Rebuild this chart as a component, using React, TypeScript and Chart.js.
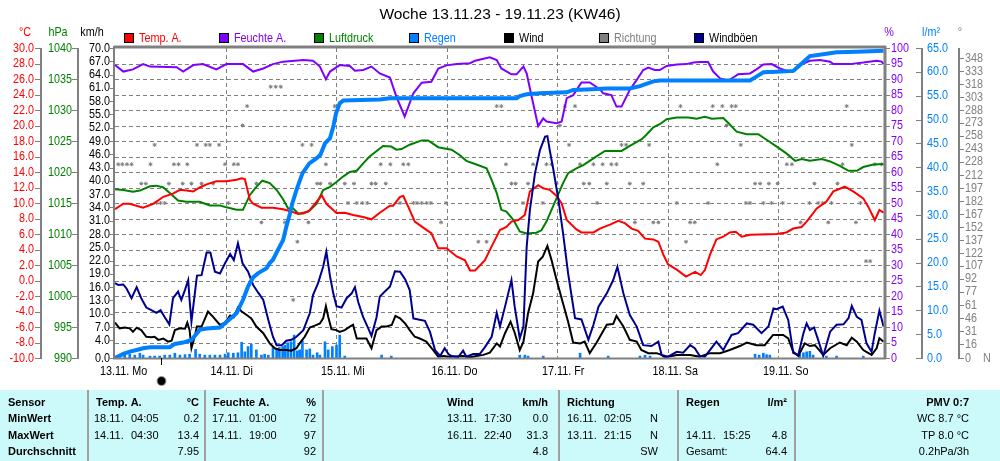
import React, { useEffect, useRef } from 'react';
import { Chart, registerables } from 'chart.js';
Chart.register(...registerables);

const SANS = '"Liberation Sans", Arial, sans-serif';
const SQUEEZE = 0.83;

const X_MAX = 167;
const title = 'Woche 13.11.23 - 19.11.23 (KW46)';
const dayLabels = ['13.11. Mo', '14.11. Di', '15.11. Mi', '16.11. Do', '17.11. Fr', '18.11. Sa', '19.11. So'];

const tempTicks = [-10, -8, -6, -4, -2, 0, 2, 4, 6, 8, 10, 12, 14, 16, 18, 20, 22, 24, 26, 28, 30];
const pressTicks = [990, 995, 1000, 1005, 1010, 1015, 1020, 1025, 1030, 1035, 1040];
const windTicks = [0, 4, 7, 10, 13, 16, 19, 22, 25, 28, 31, 34, 37, 40, 43, 46, 49, 52, 55, 58, 61, 64, 67, 70];
const humTicks = [0, 5, 10, 15, 20, 25, 30, 35, 40, 45, 50, 55, 60, 65, 70, 75, 80, 85, 90, 95, 100];
const rainTicks = [0, 5, 10, 15, 20, 25, 30, 35, 40, 45, 50, 55, 60, 65];
const dirTicks = [0, 16, 31, 46, 61, 77, 92, 107, 122, 137, 152, 167, 182, 197, 212, 228, 243, 258, 273, 288, 303, 318, 333, 348];

// [hour since 13.11. 00:00, value]
const temperature: [number, number][] = [
  [0, 9.2], [1.8, 9.9], [3.2, 9.9], [6.1, 9.4], [8.3, 9.9], [10.5, 10.8], [12.6, 11.2], [14.1, 11.7], [15.5, 11.6], [17.0, 11.5],
  [18.4, 12.0], [19.9, 12.4], [22.0, 12.8], [24.2, 12.8], [26.4, 13.0], [27.5, 13.2], [28.2, 13.1], [29.3, 10.4], [30.0, 9.9], [31.8, 9.4],
  [34.3, 9.4], [36.5, 9.2], [38.3, 8.9], [39.8, 8.6], [40.9, 8.75], [42.0, 8.9], [43.4, 9.9], [44.9, 11.0], [45.9, 9.9], [48.1, 8.7],
  [49.9, 8.75], [51.7, 8.45], [53.9, 8.2], [55.7, 7.9], [57.5, 8.75], [59.7, 9.65], [60.4, 9.65], [61.9, 10.8], [62.6, 10.9], [63.7, 9.5],
  [65.1, 7.6], [67.7, 6.5], [68.7, 6.1], [70.2, 4.15], [72.0, 4.15], [74.2, 3.1], [76.0, 2.6], [77.1, 1.3], [78.2, 1.3], [80.3, 2.6],
  [81.8, 4.4], [83.6, 6.5], [85.0, 6.9], [86.1, 7.6], [87.6, 7.8], [89.0, 8.45], [90.1, 11.5], [91.9, 12.3], [93.0, 11.9], [94.4, 11.7],
  [95.9, 10.9], [97.0, 9.95], [98.1, 7.8], [100.2, 6.6], [101.3, 6.2], [103.9, 6.2], [105.3, 6.7], [107.5, 7.2], [109.3, 7.7], [110.7, 7.4],
  [112.2, 6.7], [113.6, 6.4], [115.1, 5.4], [116.9, 5.3], [118.0, 5.0], [119.1, 3.3], [120.1, 2.1], [122.0, 1.4], [124.0, 0.5], [126.0, 1.1],
  [127.2, 0.7], [128.1, 1.35], [129.2, 3.3], [130.6, 5.3], [132.1, 5.65], [133.5, 6.2], [134.8, 6.3], [136.1, 5.65], [137.9, 5.9], [143.7, 6.0],
  [145.8, 6.2], [147.3, 6.7], [149.1, 6.9], [150.2, 7.6], [152.4, 9.3], [154.5, 10.2], [156.0, 11.5], [158.5, 12.1], [160.3, 11.5], [162.5, 10.6],
  [163.6, 9.5], [165.0, 7.8], [166.0, 9.1], [166.9, 8.75],
];

const humidity: [number, number][] = [
  [0, 94.5], [1.8, 92.4], [3.9, 93.1], [6.1, 94.8], [7.6, 94.0], [13.4, 93.8], [14.8, 92.4], [17.0, 94.5], [19.1, 94.8], [22.0, 93.1],
  [24.2, 94.8], [27.8, 94.8], [30.0, 92.4], [32.2, 93.4], [34.3, 94.8], [36.5, 95.6], [40.9, 96.1], [43.0, 95.9], [44.5, 94.0], [45.8, 89.9],
  [46.7, 92.4], [48.8, 94.5], [51.0, 94.2], [52.1, 92.7], [53.9, 92.9], [55.7, 94.0], [57.5, 91.8], [59.7, 90.5], [61.1, 84.3], [62.9, 77.9],
  [64.8, 85.4], [66.6, 88.8], [68.7, 89.1], [70.2, 93.4], [72.0, 94.4], [74.2, 94.8], [77.1, 95.1], [78.2, 95.9], [81.4, 97.0], [82.9, 96.1],
  [83.9, 93.4], [86.1, 91.5], [87.2, 91.5], [88.7, 94.0], [89.4, 91.8], [90.8, 82.2], [91.9, 74.8], [93.0, 77.3], [93.7, 76.3], [95.9, 75.7],
  [97.0, 76.3], [98.1, 83.8], [99.5, 84.8], [101.3, 88.9], [103.1, 88.9], [105.3, 86.7], [106.0, 85.4], [107.8, 84.8], [108.9, 81.1], [110.0, 81.1],
  [111.8, 86.5], [113.3, 89.7], [114.7, 92.9], [115.8, 93.7], [117.2, 92.9], [118.3, 92.9], [119.8, 94.2], [122.0, 94.7], [124.1, 94.8], [125.6, 95.3],
  [127.0, 95.5], [128.8, 95.5], [129.9, 92.4], [131.4, 90.2], [133.2, 89.5], [134.6, 90.8], [135.3, 91.5], [137.9, 91.8], [139.3, 93.1], [140.8, 94.7],
  [142.6, 94.8], [144.4, 93.4], [145.8, 92.7], [147.3, 92.4], [148.7, 94.5], [150.9, 95.9], [153.1, 96.1], [155.3, 95.6], [156.0, 94.8], [159.6, 94.8],
  [162.5, 95.3], [165.4, 95.9], [166.5, 95.6], [166.9, 94.8],
];

const pressure: [number, number][] = [
  [0, 1017.2], [1.8, 1017.1], [3.9, 1016.8], [5.4, 1017.0], [7.6, 1017.7], [9.0, 1017.8], [10.5, 1017.5], [11.9, 1016.6], [13.7, 1015.4], [15.5, 1015.2],
  [18.4, 1015.2], [20.6, 1014.6], [22.8, 1014.6], [24.2, 1014.3], [26.4, 1013.9], [27.8, 1013.9], [29.3, 1016.3], [30.7, 1017.6], [32.0, 1018.6], [33.6, 1018.2],
  [35.1, 1017.1], [36.5, 1015.6], [37.6, 1014.1], [38.7, 1014.1], [39.8, 1013.3], [40.9, 1013.3], [42.3, 1013.8], [43.8, 1014.9], [45.2, 1017.1], [46.7, 1017.6],
  [48.1, 1018.4], [49.6, 1019.3], [51.0, 1020.0], [52.5, 1020.2], [53.9, 1021.4], [55.3, 1022.5], [58.2, 1024.2], [60.0, 1024.1], [61.1, 1023.6], [62.2, 1023.7],
  [64.0, 1024.4], [66.6, 1025.1], [68.0, 1025.1], [70.2, 1024.0], [71.6, 1023.8], [73.1, 1023.6], [74.9, 1022.7], [76.3, 1021.8], [78.2, 1021.3], [80.7, 1020.6],
  [81.8, 1018.7], [82.9, 1016.6], [83.9, 1013.9], [85.0, 1013.6], [86.5, 1012.3], [87.9, 1010.4], [89.4, 1010.1], [91.5, 1010.2], [92.6, 1010.6], [93.7, 1012.0],
  [94.8, 1013.9], [95.9, 1015.8], [97.3, 1018.2], [98.4, 1019.8], [100.2, 1020.6], [101.7, 1021.1], [103.9, 1022.2], [106.4, 1023.4], [110.0, 1023.4], [111.8, 1024.2],
  [114.4, 1025.3], [115.4, 1026.0], [116.9, 1027.2], [118.3, 1027.7], [119.8, 1028.5], [122.0, 1028.8], [124.5, 1028.8], [126.3, 1028.6], [128.1, 1028.9], [129.6, 1028.6],
  [132.1, 1028.7], [133.2, 1027.9], [135.0, 1026.5], [137.2, 1026.1], [139.7, 1026.1], [141.5, 1025.2], [143.7, 1024.1], [145.8, 1023.0], [147.7, 1021.8], [149.1, 1022.1],
  [150.9, 1021.8], [153.5, 1022.1], [155.3, 1021.7], [157.4, 1021.0], [159.3, 1020.2], [161.1, 1020.2], [162.5, 1020.8], [164.7, 1021.2], [166.9, 1021.3],
];

const rainTotal: [number, number][] = [
  [0, 0], [1.8, 0.85], [3.2, 1.34], [4.7, 1.69], [6.1, 2.04], [7.6, 2.25], [11.9, 2.25], [13.0, 2.95], [14.8, 3.23], [16.6, 3.79],
  [17.3, 4.6], [18.4, 5.9], [19.9, 6.2], [22.8, 6.4], [23.9, 7.3], [26.4, 9.4], [27.8, 12.2], [28.9, 15.0], [30.0, 16.9], [31.1, 17.8],
  [32.9, 18.8], [33.6, 19.9], [34.3, 20.6], [35.4, 22.7], [36.5, 24.7], [37.2, 27.5], [38.0, 30.3], [38.5, 32.4], [39.4, 35.2], [40.7, 38.7],
  [42.2, 40.8], [43.8, 41.9], [44.6, 42.6], [45.6, 45.0], [46.7, 46.1], [47.4, 48.5], [48.0, 51.3], [48.8, 53.4], [49.6, 54.0], [57.5, 54.2],
  [59.7, 54.45], [87.2, 54.45], [87.9, 54.9], [89.4, 55.3], [92.3, 55.5], [98.1, 55.7], [99.5, 56.2], [102.4, 56.3], [106.8, 56.5], [111.8, 56.5],
  [114.0, 57.0], [116.9, 58.0], [118.3, 58.2], [137.9, 58.2], [139.3, 59.0], [140.8, 59.9], [143.7, 60.0], [147.3, 60.2], [148.7, 61.4], [150.9, 63.3],
  [153.8, 63.7], [156.7, 64.1], [161.0, 64.2], [166.9, 64.4],
];

const rainHourly: [number, number][] = [
  [1.0, 0.4], [2.1, 0.6], [3.2, 0.8], [4.3, 0.6], [5.4, 1.0], [6.1, 0.6], [7.6, 0.4], [8.6, 0.4], [9.7, 0.4], [10.8, 0.6],
  [11.9, 0.6], [13.0, 1.0], [14.1, 0.6], [15.2, 0.7], [16.2, 0.8], [17.5, 1.8], [18.4, 0.8], [19.5, 0.6], [20.6, 0.6], [21.7, 0.6],
  [22.8, 0.6], [23.9, 0.8], [24.6, 1.1], [25.7, 1.0], [26.7, 1.1], [27.5, 3.3], [28.2, 1.3], [28.9, 2.4], [29.6, 2.9], [30.7, 1.7],
  [31.8, 0.6], [32.5, 0.8], [33.3, 0.6], [34.3, 2.2], [35.1, 2.0], [35.7, 2.2], [36.4, 2.4], [36.9, 2.7], [37.5, 3.2], [38.2, 3.4],
  [38.9, 4.8], [39.6, 1.5], [40.1, 1.7], [40.7, 3.6], [41.6, 1.7], [42.3, 1.9], [43.0, 0.6], [43.9, 1.1], [44.5, 0.6], [45.6, 3.4],
  [46.3, 1.7], [47.2, 2.4], [48.1, 2.7], [48.8, 4.8], [49.9, 0.4], [57.9, 0.6], [60.0, 0.4], [87.9, 0.6], [89.0, 0.6], [89.7, 0.4],
  [93.0, 0.4], [101.0, 1.0], [107.1, 0.4], [114.0, 0.4], [115.1, 0.6], [116.2, 0.4], [139.0, 0.8], [139.9, 0.6], [140.8, 1.0], [141.5, 0.7],
  [142.2, 0.6], [148.7, 0.8], [149.5, 1.1], [150.2, 1.3], [150.9, 1.4], [151.6, 0.6], [154.5, 0.4], [156.7, 0.4], [162.5, 0.4],
];

const wind: [number, number][] = [
  [0, 8.0], [1.0, 6.7], [2.1, 6.9], [3.2, 6.7], [3.9, 5.9], [4.7, 6.85], [5.7, 6.3], [6.8, 4.8], [7.9, 4.7], [8.6, 4.8],
  [9.4, 4.1], [10.5, 4.4], [11.5, 3.7], [12.3, 3.9], [13.0, 6.3], [14.1, 6.7], [15.2, 6.6], [15.7, 8.0], [16.2, 6.3], [16.6, 2.2],
  [17.3, 4.8], [17.8, 7.1], [18.8, 7.1], [20.2, 10.5], [21.3, 9.3], [22.8, 7.45], [23.9, 8.0], [25.0, 9.6], [25.8, 9.2], [26.7, 11.4],
  [27.5, 10.5], [28.6, 9.7], [29.6, 8.95], [30.7, 7.1], [32.2, 5.6], [33.6, 3.3], [34.7, 2.2], [35.8, 1.8], [37.2, 1.8], [38.3, 1.65],
  [39.4, 2.2], [40.1, 3.3], [41.2, 4.8], [42.3, 6.9], [43.4, 7.3], [44.5, 7.8], [45.2, 8.95], [45.8, 11.7], [46.3, 9.3], [47.0, 6.5],
  [48.1, 6.3], [48.8, 5.9], [49.9, 6.3], [51.0, 7.1], [51.7, 7.5], [52.5, 4.4], [53.5, 4.4], [54.6, 4.4], [55.7, 2.2], [56.8, 6.3],
  [57.9, 7.1], [59.0, 7.1], [60.1, 7.45], [60.9, 9.5], [61.9, 8.95], [63.0, 7.8], [64.0, 6.3], [65.1, 4.8], [66.2, 4.4], [67.6, 3.7],
  [69.1, 1.8], [70.2, 0.3], [71.3, 0.45], [72.7, 0.3], [75.6, 0.45], [77.1, 0.15], [78.5, 0.45], [80.0, 0.7], [81.4, 1.2], [82.9, 3.3],
  [83.6, 2.6], [84.7, 5.6], [85.9, 8.2], [86.8, 5.7], [87.9, 1.8], [88.7, 3.7], [89.7, 10.1], [90.8, 14.6], [91.9, 21.8], [92.9, 22.9],
  [93.9, 25.3], [94.8, 22.1], [95.9, 17.6], [97.3, 12.3], [98.4, 8.2], [99.5, 3.5], [101.0, 3.3], [102.0, 3.7], [103.1, 1.1], [104.6, 3.5],
  [106.8, 7.5], [108.2, 7.7], [108.9, 9.5], [110.4, 7.1], [111.8, 4.1], [113.3, 3.7], [114.3, 1.8], [115.8, 1.1], [117.6, 1.1], [118.7, 0.7],
  [119.4, 0.15], [122.0, 0.7], [124.9, 0.7], [127.0, 0.3], [129.2, 1.1], [131.4, 1.1], [133.5, 1.8], [135.7, 2.7], [137.2, 3.5], [139.3, 2.9],
  [141.1, 2.9], [142.9, 5.2], [145.1, 5.2], [146.2, 4.45], [147.3, 1.4], [148.4, 0.45], [149.8, 3.3], [150.9, 2.7], [152.0, 2.9], [153.8, 0.7],
  [155.3, 2.2], [157.4, 3.5], [158.9, 2.9], [160.0, 4.6], [161.1, 3.7], [162.5, 1.8], [164.3, 0.7], [165.4, 2.2], [166.0, 4.45], [166.9, 3.7],
];

const gusts: [number, number][] = [
  [0, 16.9], [0.7, 16.5], [1.8, 16.6], [2.5, 15.7], [3.6, 13.5], [4.7, 16.0], [5.7, 13.5], [6.8, 11.4], [7.9, 10.8], [9.0, 10.2],
  [9.9, 10.8], [10.8, 9.2], [11.8, 7.6], [12.6, 13.5], [13.7, 15.0], [14.4, 13.1], [15.2, 15.4], [15.9, 17.6], [16.2, 13.1], [16.6, 8.2],
  [17.8, 18.6], [18.8, 18.7], [19.9, 23.8], [20.7, 23.8], [21.7, 19.5], [22.8, 19.1], [23.9, 21.4], [25.0, 23.5], [25.8, 22.1], [26.7, 25.9],
  [27.7, 21.4], [28.9, 19.5], [30.0, 16.5], [31.1, 14.75], [32.2, 13.1], [33.3, 8.6], [34.3, 4.8], [35.1, 2.9], [36.2, 2.9], [37.2, 3.9],
  [38.3, 4.1], [39.4, 4.8], [40.9, 6.3], [42.3, 10.1], [43.0, 14.2], [44.1, 16.9], [45.2, 20.6], [45.9, 24.0], [46.7, 18.4], [47.4, 14.6],
  [48.1, 11.7], [49.2, 11.4], [50.3, 13.5], [51.4, 14.6], [52.1, 16.0], [52.8, 12.7], [53.9, 9.2], [55.0, 6.7], [55.7, 5.0], [56.8, 9.2],
  [57.5, 13.85], [58.6, 15.0], [59.7, 16.1], [60.8, 19.6], [61.9, 19.5], [63.0, 17.8], [64.0, 15.35], [64.8, 8.95], [65.9, 8.7], [67.3, 8.4],
  [68.4, 5.9], [69.5, 1.8], [70.6, 0.45], [71.6, 2.2], [72.4, 0.9], [73.1, 0.45], [74.5, 0.15], [75.6, 1.65], [76.3, 0.3], [77.8, 0.9],
  [79.2, 0.9], [80.3, 2.4], [81.8, 4.8], [82.9, 10.2], [83.6, 7.1], [84.7, 11.6], [86.1, 17.6], [86.8, 11.6], [87.9, 4.45], [88.7, 7.1],
  [89.4, 25.1], [90.1, 33.4], [91.2, 41.7], [92.3, 47.0], [93.4, 50.0], [93.9, 50.1], [94.4, 47.0], [95.2, 42.5], [96.3, 35.7], [97.3, 28.2],
  [98.4, 19.1], [99.9, 9.0], [101.3, 8.7], [102.8, 4.1], [103.9, 7.5], [105.0, 11.6], [106.8, 14.6], [108.2, 17.6], [109.1, 20.6], [110.4, 14.6],
  [111.8, 9.7], [113.3, 7.1], [114.7, 2.9], [116.5, 2.7], [118.0, 3.7], [118.7, 0.7], [120.1, 0.3], [122.0, 1.4], [123.4, 1.2], [124.9, 2.9],
  [125.9, 2.2], [127.0, 0.45], [128.1, 0.3], [129.2, 1.8], [130.6, 3.7], [132.1, 1.8], [133.9, 5.2], [135.3, 5.6], [137.2, 7.8], [138.6, 7.5],
  [140.4, 5.6], [141.9, 7.1], [143.0, 11.2], [143.7, 11.0], [145.0, 11.6], [146.2, 8.6], [147.3, 1.1], [148.4, 0.7], [149.5, 5.6], [150.2, 7.8],
  [150.9, 6.3], [151.8, 6.9], [152.7, 4.1], [153.8, 0.45], [155.3, 5.95], [156.7, 7.5], [158.2, 7.6], [159.3, 9.0], [160.0, 11.75], [161.1, 9.3],
  [162.1, 8.6], [163.2, 3.3], [164.3, 1.4], [165.0, 5.6], [166.0, 10.7], [166.9, 7.1],
];

const direction: [number, number][] = [
  [0.7, 225], [1.6, 225], [2.6, 225], [3.6, 225], [5.7, 202.5], [6.7, 202.5], [7.7, 225], [8.6, 247.5], [9.0, 180], [9.9, 180],
  [10.8, 180], [11.7, 202.5], [12.8, 225], [13.8, 225], [14.7, 202.5], [15.7, 225], [16.6, 202.5], [17.8, 247.5], [18.8, 202.5], [19.7, 247.5],
  [20.6, 247.5], [21.3, 202.5], [22.6, 247.5], [23.9, 225], [24.6, 180], [25.8, 225], [26.7, 225], [27.7, 270], [28.7, 292.5], [30.7, 202.5],
  [31.8, 157.5], [33.8, 315], [34.9, 315], [36.0, 315], [36.9, 157.5], [38.7, 67.5], [39.6, 135], [40.7, 247.5], [42.0, 157.5], [42.7, 247.5],
  [43.9, 202.5], [44.6, 202.5], [45.8, 225], [46.7, 202.5], [47.7, 292.5], [49.9, 202.5], [50.6, 180], [51.9, 202.5], [52.5, 180], [53.7, 180],
  [54.8, 180], [55.7, 202.5], [56.6, 202.5], [57.7, 225], [58.8, 202.5], [59.8, 225], [61.9, 180], [62.6, 225], [63.7, 225], [64.8, 180],
  [65.6, 180], [66.6, 180], [67.7, 180], [68.6, 180], [70.8, 157.5], [71.9, 180], [78.9, 135], [80.7, 135], [82.9, 292.5], [83.9, 292.5],
  [84.9, 225], [86.1, 202.5], [87.0, 202.5], [88.6, 180], [89.7, 202.5], [90.8, 225], [92.9, 180], [93.7, 225], [94.8, 225], [95.9, 202.5],
  [96.6, 270], [97.7, 292.5], [98.6, 247.5], [99.9, 292.5], [101.0, 225], [101.8, 202.5], [103.0, 202.5], [103.9, 225], [104.7, 180], [105.9, 225],
  [106.8, 202.5], [107.8, 225], [108.9, 225], [110.0, 247.5], [111.0, 247.5], [111.8, 202.5], [112.9, 157.5], [114.7, 202.5], [116.0, 247.5], [116.9, 157.5],
  [118.0, 157.5], [122.0, 180], [122.8, 292.5], [124.0, 135], [124.9, 157.5], [125.9, 157.5], [128.8, 180], [129.8, 292.5], [130.8, 225], [131.9, 292.5],
  [132.8, 270], [133.9, 292.5], [134.8, 292.5], [135.9, 247.5], [137.0, 180], [137.9, 180], [139.0, 202.5], [140.1, 202.5], [140.8, 180], [142.0, 202.5],
  [142.6, 180], [143.9, 202.5], [145.0, 180], [145.9, 225], [147.0, 225], [148.9, 157.5], [150.8, 180], [151.9, 202.5], [152.7, 180], [153.7, 180],
  [154.9, 157.5], [155.6, 180], [156.9, 202.5], [158.0, 225], [158.9, 292.5], [160.0, 247.5], [160.9, 157.5], [161.9, 180], [163.1, 112.5], [164.0, 112.5],
  [165.0, 225], [166.5, 225],
];

const newMoonHour = 10;

const legendItems = [
  { label: 'Temp. A.', color: '#FF0000', text: '#FF0000' },
  { label: 'Feuchte A.', color: '#8000FF', text: '#8000FF' },
  { label: 'Luftdruck', color: '#008000', text: '#008000' },
  { label: 'Regen', color: '#0080FF', text: '#0080FF' },
  { label: 'Wind', color: '#000000', text: '#000000' },
  { label: 'Richtung', color: '#808080', text: '#808080' },
  { label: 'Windböen', color: '#000090', text: '#000000' },
];

// table rows: [text, x, align, bold]
type Cell = [string, number, 'left' | 'right', boolean];
const tableRows: Cell[][] = [
  [['Sensor', 8, 'left', true], ['Temp. A.', 96, 'left', true], ['°C', 199, 'right', true], ['Feuchte A.', 213, 'left', true], ['%', 316, 'right', true],
   ['Wind', 447, 'left', true], ['km/h', 548, 'right', true], ['Richtung', 567, 'left', true], ['Regen', 686, 'left', true], ['l/m²', 787, 'right', true],
   ['PMV 0:7', 969, 'right', true]],
  [['MinWert', 8, 'left', true], ['18.11.', 94, 'left', false], ['04:05', 131, 'left', false], ['0.2', 199, 'right', false],
   ['17.11.', 212, 'left', false], ['01:00', 249, 'left', false], ['72', 316, 'right', false],
   ['13.11.', 447, 'left', false], ['17:30', 484, 'left', false], ['0.0', 548, 'right', false],
   ['16.11.', 567, 'left', false], ['02:05', 604, 'left', false], ['N', 658, 'right', false],
   ['WC 8.7 °C', 969, 'right', false]],
  [['MaxWert', 8, 'left', true], ['14.11.', 94, 'left', false], ['04:30', 131, 'left', false], ['13.4', 199, 'right', false],
   ['14.11.', 212, 'left', false], ['19:00', 249, 'left', false], ['97', 316, 'right', false],
   ['16.11.', 447, 'left', false], ['22:40', 484, 'left', false], ['31.3', 548, 'right', false],
   ['13.11.', 567, 'left', false], ['21:15', 604, 'left', false], ['N', 658, 'right', false],
   ['14.11.', 686, 'left', false], ['15:25', 723, 'left', false], ['4.8', 787, 'right', false],
   ['TP 8.0 °C', 969, 'right', false]],
  [['Durchschnitt', 8, 'left', true], ['7.95', 199, 'right', false], ['92', 316, 'right', false], ['4.8', 548, 'right', false],
   ['SW', 658, 'right', false], ['Gesamt:', 686, 'left', false], ['64.4', 787, 'right', false], ['0.2hPa/3h', 969, 'right', false]],
];
const tableRowY = [403, 419, 436, 452];
const tableSeparators = [88, 205, 323, 559, 678, 795];

const toXY = (arr: [number, number][]) => arr.map(([x, y]) => ({ x, y }));

function text(ctx: CanvasRenderingContext2D, s: string, x: number, y: number, color: string, align: CanvasTextAlign, font: string, squeeze = 1) {
  ctx.font = font;
  ctx.fillStyle = color;
  ctx.textAlign = align;
  ctx.textBaseline = 'middle';
  if (squeeze < 1) {
    const w = ctx.measureText(s).width;
    ctx.fillText(s, x, y, w * squeeze);
  } else {
    ctx.fillText(s, x, y);
  }
}
function hline(ctx: CanvasRenderingContext2D, x1: number, x2: number, y: number) {
  ctx.beginPath(); ctx.moveTo(x1, y); ctx.lineTo(x2, y); ctx.stroke();
}
function vline(ctx: CanvasRenderingContext2D, x: number, y1: number, y2: number) {
  ctx.beginPath(); ctx.moveTo(x, y1); ctx.lineTo(x, y2); ctx.stroke();
}

const decor = {
  id: 'decor',
  beforeDatasetsDraw(chart: any) {
    const { ctx, chartArea: ca, scales } = chart;
    ctx.save();
    ctx.strokeStyle = '#808080';
    ctx.lineWidth = 1;
    ctx.setLineDash([4, 3]);
    humTicks.forEach((v) => {
      if (v === 0 || v === 100) return;
      const y = Math.round(scales.yH.getPixelForValue(v)) + 0.5;
      hline(ctx, ca.left, ca.right, y);
    });
    dayLabels.forEach((_, i) => {
      if (i === 0) return;
      const x = Math.round(scales.x.getPixelForValue(i * 24)) + 0.5;
      vline(ctx, x, ca.top, ca.bottom);
    });
    ctx.restore();
  },
  afterDraw(chart: any) {
    const { ctx, chartArea: ca, scales } = chart;
    const AX = '13px ' + SANS;
    const Q = SQUEEZE;
    ctx.save();
    // frame
    ctx.strokeStyle = '#808080';
    ctx.lineWidth = 3;
    hline(ctx, ca.left - 1, ca.right + 2, ca.top - 1);
    vline(ctx, ca.right + 1, ca.top - 2, ca.bottom + 1);
    ctx.lineWidth = 2;
    vline(ctx, ca.left - 1, ca.top - 2, ca.bottom + 1);
    hline(ctx, ca.left - 2, ca.right + 2, ca.bottom + 0.5);

    // axis lines
    ctx.lineWidth = 2;
    vline(ctx, 41, ca.top, ca.bottom + 1);
    vline(ctx, 78, ca.top, ca.bottom + 1);
    vline(ctx, 922, ca.top, ca.bottom + 1);
    vline(ctx, 959, ca.top, ca.bottom + 1);
    ctx.lineWidth = 1;
    tempTicks.forEach((v) => {
      const y = scales.yT.getPixelForValue(v);
      ctx.strokeStyle = '#808080';
      hline(ctx, 35, 41, Math.round(y) + 0.5);
      text(ctx, v.toFixed(1), 34, y, '#FF0000', 'right', AX, Q);
    });
    pressTicks.forEach((v) => {
      const y = scales.yP.getPixelForValue(v);
      ctx.strokeStyle = '#808080';
      hline(ctx, 72, 78, Math.round(y) + 0.5);
      text(ctx, String(v), 72, y, '#008000', 'right', AX, Q);
    });
    windTicks.forEach((v) => {
      const y = scales.yW.getPixelForValue(v);
      ctx.strokeStyle = '#808080';
      hline(ctx, 110, 114, Math.round(y) + 0.5);
      text(ctx, v.toFixed(1), 110, y, '#000000', 'right', AX, Q);
    });
    humTicks.forEach((v) => {
      const y = scales.yH.getPixelForValue(v);
      ctx.strokeStyle = '#808080';
      hline(ctx, ca.right + 2, 890, Math.round(y) + 0.5);
      text(ctx, String(v), 891, y, '#8000FF', 'left', AX, Q);
    });
    rainTicks.forEach((v) => {
      const y = scales.yR.getPixelForValue(v);
      ctx.strokeStyle = '#808080';
      hline(ctx, 916, 922, Math.round(y) + 0.5);
      text(ctx, v.toFixed(1), 927, y, '#0080FF', 'left', AX, Q);
    });
    dirTicks.forEach((v) => {
      const y = scales.yD.getPixelForValue(v);
      ctx.strokeStyle = '#808080';
      hline(ctx, 959, 964, Math.round(y) + 0.5);
      text(ctx, String(v), 965, y, '#808080', 'left', AX, Q);
    });
    text(ctx, 'N', 983, ca.bottom, '#808080', 'left', AX, Q);

    // units
    text(ctx, '°C', 25, 32, '#FF0000', 'center', AX, Q);
    text(ctx, 'hPa', 58, 32, '#008000', 'center', AX, Q);
    text(ctx, 'km/h', 92, 32, '#000000', 'center', AX, Q);
    text(ctx, '%', 889, 32, '#8000FF', 'center', AX, Q);
    text(ctx, 'l/m²', 931, 32, '#0080FF', 'center', AX, Q);
    text(ctx, '°', 960, 32, '#808080', 'center', AX, Q);

    // title
    text(ctx, title, 500, 15, '#000000', 'center', '15.5px ' + SANS);

    // legend
    legendItems.forEach((it, i) => {
      const x = 124 + i * 95;
      ctx.fillStyle = it.color;
      ctx.fillRect(x, 33, 10, 10);
      ctx.strokeStyle = '#000000';
      ctx.lineWidth = 1;
      ctx.strokeRect(x + 0.5, 33.5, 9, 9);
      text(ctx, it.label, x + 15, 38, it.text, 'left', AX, Q);
    });

    // x labels
    dayLabels.forEach((s, i) => {
      const x = scales.x.getPixelForValue(i * 24);
      text(ctx, s, x - 15, 371, '#000000', 'left', AX, Q);
    });

    // moon marker
    const mx = Math.round(scales.x.getPixelForValue(newMoonHour)) + 0.5;
    ctx.strokeStyle = '#000000';
    ctx.lineWidth = 1;
    vline(ctx, mx, ca.bottom, ca.bottom + 7);
    ctx.beginPath();
    ctx.arc(mx, 381, 4.5, 0, Math.PI * 2);
    ctx.fillStyle = '#000000';
    ctx.fill();
    ctx.strokeStyle = '#A0A0A0';
    ctx.stroke();

    // table
    ctx.fillStyle = '#CCFAFA';
    ctx.fillRect(0, 390, 1000, 71);
    ctx.strokeStyle = '#A0A0A0';
    ctx.lineWidth = 2;
    tableSeparators.forEach((x) => vline(ctx, x, 390, 461));
    tableRows.forEach((row, r) => {
      row.forEach(([s, x, align, bold]) => {
        text(ctx, s, x, tableRowY[r], '#000000', align, (bold ? 'bold ' : '') + '11px ' + SANS);
      });
    });
    ctx.restore();
  },
};

export default function App() {
  const ref = useRef<HTMLCanvasElement>(null);
  useEffect(() => {
    if (!ref.current) return;
    const line = (label: string, data: [number, number][], axis: string, color: string, width = 2) => ({
      type: 'line' as const,
      label,
      data: toXY(data),
      yAxisID: axis,
      borderColor: color,
      backgroundColor: color,
      borderWidth: width,
      pointRadius: 0,
      tension: 0,
      fill: false,
    });
    const chart = new Chart(ref.current, {
      type: 'line',
      data: {
        datasets: [
          line('Regen', rainTotal, 'yR', '#0080FF', 4),
          line('Windböen', gusts, 'yW', '#000090'),
          line('Wind', wind, 'yW', '#000000'),
          line('Temp. A.', temperature, 'yT', '#FF0000'),
          line('Feuchte A.', humidity, 'yH', '#8000FF'),
          line('Luftdruck', pressure, 'yP', '#008000'),
          {
            type: 'line' as const,
            label: 'Richtung',
            data: toXY(direction),
            yAxisID: 'yD',
            showLine: false,
            pointStyle: 'star',
            pointRadius: 2,
            borderWidth: 1,
            borderColor: '#808080',
            backgroundColor: '#808080',
          },
          {
            type: 'bar' as const,
            label: 'Regen/h',
            data: toXY(rainHourly),
            yAxisID: 'yR',
            backgroundColor: '#0080FF',
            barThickness: 2,
          } as any,
        ],
      },
      options: {
        responsive: false,
        animation: false,
        devicePixelRatio: 1,
        layout: { padding: { left: 115, right: 116, top: 48, bottom: 103 } },
        plugins: { legend: { display: false }, tooltip: { enabled: false }, title: { display: false } },
        scales: {
          x: { type: 'linear', min: 0, max: X_MAX, display: false, offset: false },
          yT: { type: 'linear', min: -10, max: 30, display: false },
          yP: { type: 'linear', min: 990, max: 1040, display: false },
          yW: { type: 'linear', min: 0, max: 70, display: false },
          yH: { type: 'linear', min: 0, max: 100, display: false },
          yR: { type: 'linear', min: 0, max: 65, display: false },
          yD: { type: 'linear', min: 0, max: 360, display: false },
        },
      },
      plugins: [decor],
    } as any);
    return () => chart.destroy();
  }, []);
  return (
    <div style={{ position: 'absolute', left: 0, top: 0, width: 1000, height: 461, background: '#FFFFFF' }}>
      <canvas ref={ref} width={1000} height={461} style={{ display: 'block' }} />
    </div>
  );
}
